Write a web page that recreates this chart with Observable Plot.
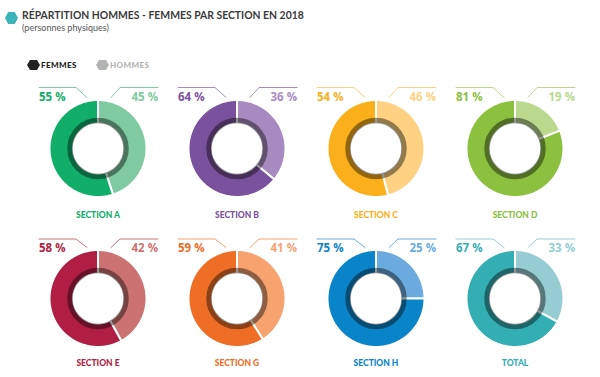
<!DOCTYPE html>
<html>
<head>
<meta charset="utf-8">
<script src="https://cdn.jsdelivr.net/npm/d3@7"></script>
<script src="https://cdn.jsdelivr.net/npm/@observablehq/plot@0.6"></script>
<style>
  html, body { margin: 0; padding: 0; background: #fff; }
  #wrap { position: relative; width: 600px; height: 377px; overflow: hidden; font-family: Lato, "Open Sans", sans-serif; }
  #header { position: relative; height: 72px; }
  .title { position: absolute; left: 22px; top: 9px; font-size: 10.4px; font-weight: 700; color: #3a3a3a; white-space: nowrap; }
  .subtitle { position: absolute; left: 22px; top: 22px; font-size: 9px; font-weight: 400; color: #555; white-space: nowrap; }
  .hex { position: absolute; }
  .leg { position: absolute; top: 59.5px; font-size: 8px; font-weight: 900; letter-spacing: 0.4px; white-space: nowrap; }
</style>
</head>
<body>
<div id="wrap">
  <div id="header">
    <svg class="hex" style="left:5px;top:12px" width="13" height="12" viewBox="0 0 13 12"><polygon points="0,6 3.2,0 9.8,0 13,6 9.8,12 3.2,12" fill="#3ab3b9"/></svg>
    <div class="title">RÉPARTITION HOMMES - FEMMES PAR SECTION EN 2018</div>
    <div class="subtitle">(personnes physiques)</div>
    <svg class="hex" style="left:27px;top:60px" width="13" height="10" viewBox="0 0 13 10"><polygon points="0,5 3,0 10,0 13,5 10,10 3,10" fill="#222"/></svg>
    <div class="leg" style="left:41px;color:#222">FEMMES</div>
    <svg class="hex" style="left:96px;top:60px" width="13" height="10" viewBox="0 0 13 10"><polygon points="0,5 3,0 10,0 13,5 10,10 3,10" fill="#b3b3b3"/></svg>
    <div class="leg" style="left:110px;color:#b3b3b3">HOMMES</div>
  </div>
  <div id="chart"></div>
</div>
<script>
// ---- data ----
const sections = ["SECTION A", "SECTION B", "SECTION C", "SECTION D", "SECTION E", "SECTION G", "SECTION H", "TOTAL"];
const femmes = [55, 64, 54, 81, 58, 59, 75, 67];
const hommes = [45, 36, 46, 19, 42, 41, 25, 33];
const femmesColors = ["#10ae69", "#7a519c", "#fbb01b", "#8cc03f", "#b01e44", "#ef6e26", "#0a84c9", "#33aeb3"];
const hommesColors = ["#80caa1", "#a78bc0", "#fed282", "#bad98d", "#cd7272", "#f6a36f", "#6aaade", "#96cdd2"];

// ---- geometry helpers (layout in facet-local units, 1 unit = 1px) ----
const R_OUT = 48.5, R_IN = 25;
function arcPolygon(a0, a1, r0, r1) {
  const pts = [];
  const n = Math.max(2, Math.ceil(Math.abs(a1 - a0) / 1));
  for (let k = 0; k <= n; k++) { const a = (a0 + (a1 - a0) * k / n) * Math.PI / 180; pts.push([r1 * Math.sin(a), r1 * Math.cos(a)]); }
  for (let k = n; k >= 0; k--) { const a = (a0 + (a1 - a0) * k / n) * Math.PI / 180; pts.push([r0 * Math.sin(a), r0 * Math.cos(a)]); }
  return pts;
}

const segs = [], rings = [], leaders = [], leftLabels = [], rightLabels = [], names = [];
sections.forEach((s, i) => {
  const fx = i % 4, fy = Math.floor(i / 4);
  const split = hommes[i] / (hommes[i] + femmes[i]) * 360;
  arcPolygon(0, split, R_IN, R_OUT).forEach(([x, y]) => segs.push({key: s + "H", fx, fy, x, y, fill: hommesColors[i]}));
  arcPolygon(split, 360, R_IN, R_OUT).forEach(([x, y]) => segs.push({key: s + "F", fx, fy, x, y, fill: femmesColors[i]}));
  rings.push({fx, fy});
  const ly = fy === 0 ? 61 : 59.5;
  [[-59, ly], [-22, ly], [-11, 51]].forEach(([x, y]) => leaders.push({key: s + "L", fx, fy, x, y, stroke: hommesColors[i]}));
  [[13, 51], [22, ly], [60, ly]].forEach(([x, y]) => leaders.push({key: s + "R", fx, fy, x, y, stroke: hommesColors[i]}));
  leftLabels.push({fx, fy, y: fy === 0 ? 48 : 46.5, text: femmes[i] + " %", fill: femmesColors[i]});
  rightLabels.push({fx, fy, y: fy === 0 ? 48 : 46.5, text: hommes[i] + " %", fill: hommesColors[i]});
  names.push({fx, fy, y: fy === 0 ? -69.5 : -67.5, text: s, fill: femmesColors[i]});
});

const chart = Plot.plot({
  width: 600,
  height: 305,
  marginTop: 4, marginBottom: 1, marginLeft: 27.5, marginRight: 16.5,
  fx: {axis: null, padding: 0, domain: [0, 1, 2, 3]},
  fy: {axis: null, padding: 0, domain: [0, 1]},
  x: {axis: null, domain: [-69.5, 69.5]},
  y: {axis: null, domain: [-78, 72]},
  color: {type: "identity"},
  style: {fontFamily: "Lato, 'Open Sans', sans-serif", background: "white", overflow: "visible"},
  marks: [
    Plot.line(segs, {x: "x", y: "y", z: "key", fx: "fx", fy: "fy", fill: "fill", stroke: "white", strokeWidth: 2, curve: "linear-closed"}),
    Plot.dot(rings, {x: () => 0, y: () => 0, fx: "fx", fy: "fy", r: 28, fill: "none", stroke: "black", strokeOpacity: 0.42, strokeWidth: 5.5}),
    Plot.line(leaders, {x: "x", y: "y", z: "key", fx: "fx", fy: "fy", stroke: "stroke", strokeWidth: 1}),
    Plot.text(leftLabels, {x: () => -59, y: "y", fx: "fx", fy: "fy", text: "text", fill: "fill", textAnchor: "start", lineAnchor: "bottom", fontSize: 11.5, fontWeight: 700, fontFamily: "'Open Sans', sans-serif", letterSpacing: 0.4}),
    Plot.text(rightLabels, {x: () => 60, y: "y", fx: "fx", fy: "fy", text: "text", fill: "fill", textAnchor: "end", lineAnchor: "bottom", fontSize: 11.5, fontWeight: 700, fontFamily: "'Open Sans', sans-serif", letterSpacing: 0.4}),
    Plot.text(names, {x: () => 0, y: "y", fx: "fx", fy: "fy", text: "text", fill: "fill", textAnchor: "middle", lineAnchor: "bottom", fontSize: 8.5, fontWeight: 900})
  ]
});
document.getElementById("chart").appendChild(chart);
</script>
</body>
</html>
